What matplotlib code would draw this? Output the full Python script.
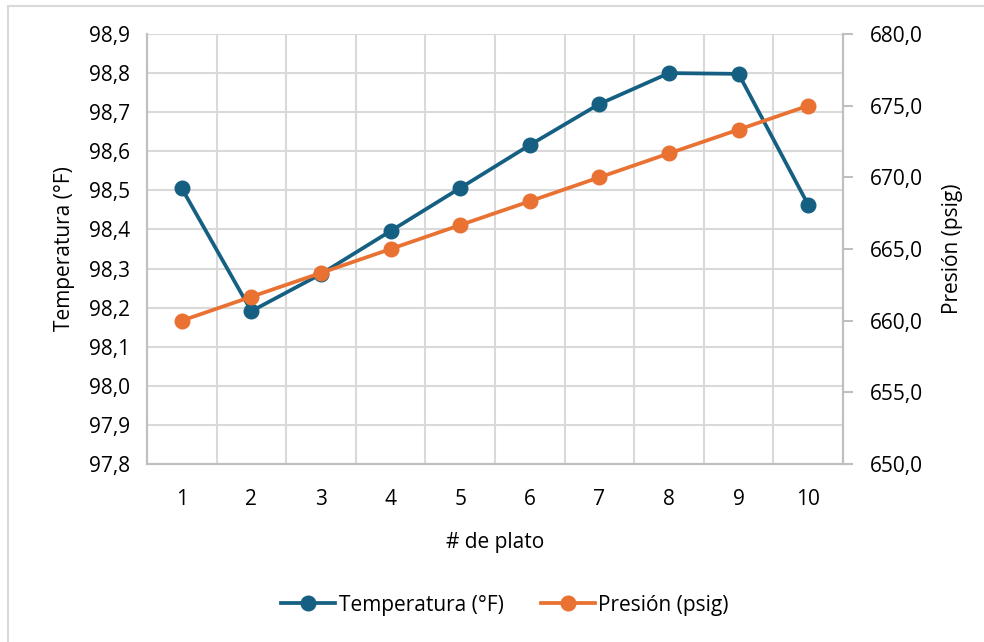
import matplotlib.pyplot as plt
from matplotlib.patches import Rectangle
from matplotlib.ticker import FuncFormatter, MultipleLocator, FixedLocator

plt.rcParams['font.family'] = ['Open Sans', 'DejaVu Sans']

platos = [1, 2, 3, 4, 5, 6, 7, 8, 9, 10]
temperatura = [98.505, 98.191, 98.286, 98.396, 98.506, 98.616, 98.721, 98.800, 98.798, 98.463]
presion = [660.0, 661.67, 663.33, 665.0, 666.67, 668.33, 670.0, 671.67, 673.33, 675.0]

azul = '#156082'
naranja = '#E97132'
gris = '#D9D9D9'
eje = '#BFBFBF'
fs = 15

fig = plt.figure(figsize=(9.84, 6.42), dpi=100)
ax = fig.add_axes([147 / 984, 1 - 464 / 642, 696 / 984, 430 / 642])
ax2 = ax.twinx()

# borde del área del gráfico
fig.patches.append(Rectangle((7.5 / 984, -0.1), 1.2, 1 - 5.5 / 642 + 0.1,
                             transform=fig.transFigure, fill=False,
                             edgecolor=gris, linewidth=1.5, zorder=0))

l1, = ax.plot(platos, temperatura, color=azul, lw=2.7, marker='o', ms=10.5,
              label='Temperatura (°F)', zorder=4)
l2, = ax2.plot(platos, presion, color=naranja, lw=2.7, marker='o', ms=10.5,
               label='Presión (psig)', zorder=4)

ax.set_xlim(0.5, 10.5)
ax.set_ylim(97.8, 98.9)
ax2.set_ylim(650, 680)

ax.yaxis.set_major_locator(MultipleLocator(0.1))
ax2.yaxis.set_major_locator(MultipleLocator(5))
ax.yaxis.set_major_formatter(FuncFormatter(lambda v, p: f'{v:.1f}'.replace('.', ',')))
ax2.yaxis.set_major_formatter(FuncFormatter(lambda v, p: f'{v:.1f}'.replace('.', ',')))
ax.xaxis.set_major_locator(FixedLocator(platos))
ax.xaxis.set_minor_locator(FixedLocator([x + 0.5 for x in platos[:-1]]))

ax.grid(axis='y', which='major', color=gris, lw=1.5)
ax.grid(axis='x', which='minor', color=gris, lw=1.5)
ax.set_axisbelow(True)

for a in (ax, ax2):
    a.spines['top'].set_visible(False)
    for s in ('left', 'right', 'bottom'):
        a.spines[s].set_color(eje)
        a.spines[s].set_linewidth(1.5)

ax.tick_params(axis='both', which='both', length=0, labelsize=fs, colors='#000000')
ax.tick_params(axis='x', pad=18)
ax.tick_params(axis='y', pad=12)
ax2.tick_params(axis='y', length=7, width=1.5, color=eje, labelsize=fs, pad=12)

ax.set_xlabel('# de plato', fontsize=fs, labelpad=16)
ax.set_ylabel('Temperatura (°F)', fontsize=fs, labelpad=10)
ax2.set_ylabel('Presión (psig)', fontsize=fs, labelpad=14)

fig.legend(handles=[l1, l2], loc='center', bbox_to_anchor=(505 / 984, 1 - 605 / 642),
           ncol=2, frameon=False, fontsize=fs, handlelength=2.6, columnspacing=1.8,
           handletextpad=0.15)

fig.savefig('out.png', dpi=100)
